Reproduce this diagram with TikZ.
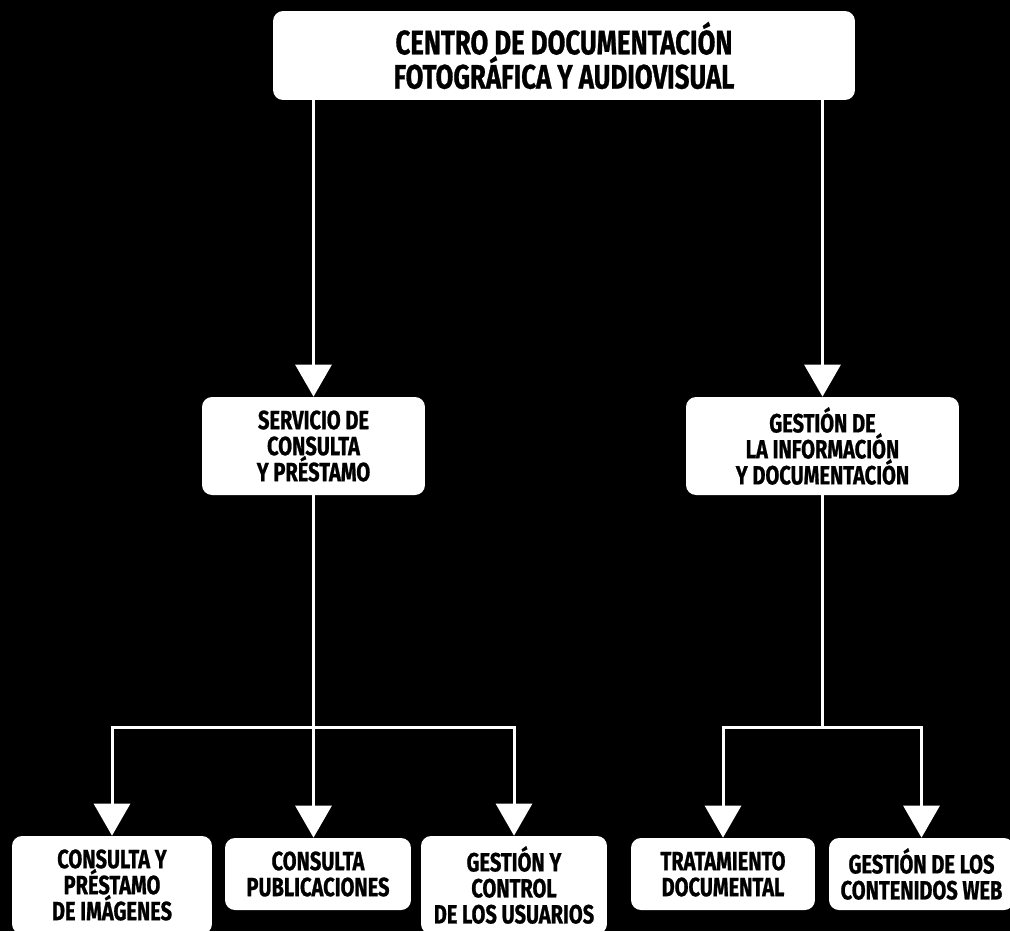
\documentclass[tikz,border=0pt]{standalone}
\usepackage{fontspec}
\setmainfont{Fira Sans}[FakeStretch=0.76,BoldFeatures={FakeBold=0.8}]
\usetikzlibrary{arrows.meta}

\begin{document}
\begin{tikzpicture}[x=0.02cm,y=-0.02cm,
    unit/.style={rounded corners=0.2cm,fill=white,text=black,align=center,inner sep=0pt,
        font=\bfseries\fontsize{15}{14.8}\selectfont},
    link/.style={draw=white,line width=0.06cm,-{Triangle[width=0.72cm,length=0.64cm]}},
    bar/.style={draw=white,line width=0.06cm}]
    \useasboundingbox (0,0) rectangle (1010,931);
    \fill[black] (0,0) rectangle (1010,931);

    % head
    \node[unit,minimum width=11.64cm,minimum height=1.78cm,font=\bfseries\fontsize{19.3}{19.5}\selectfont] (top) at (564,55.5) {CENTRO DE DOCUMENTACIÓN\\FOTOGRÁFICA Y AUDIOVISUAL};

    % areas
    \node[unit,minimum width=4.46cm,minimum height=1.96cm] (serv) at (313.5,446) {SERVICIO DE\\CONSULTA\\Y PRÉSTAMO};
    \node[unit,minimum width=5.46cm,minimum height=1.96cm] (gest) at (822.5,446) {GESTIÓN DE\\LA INFORMACIÓN\\Y DOCUMENTACIÓN};

    % units
    \node[unit,minimum width=4.0cm,minimum height=1.96cm] (img) at (112,885) {CONSULTA Y\\PRÉSTAMO\\DE IMÁGENES};
    \node[unit,minimum width=3.72cm,minimum height=1.44cm] (pub) at (318,874) {CONSULTA\\PUBLICACIONES};
    \node[unit,minimum width=3.72cm,minimum height=1.96cm] (usr) at (514,885) {GESTIÓN Y\\CONTROL\\DE LOS USUARIOS};
    \node[unit,minimum width=3.68cm,minimum height=1.44cm] (doc) at (723,874) {TRATAMIENTO\\DOCUMENTAL};
    \node[unit,minimum width=3.7cm,minimum height=1.44cm] (web) at (921.5,874) {GESTIÓN DE LOS\\CONTENIDOS WEB};

    \coordinate (lbar) at (313.5,727);
    \coordinate (rbar) at (822.5,727);

    \draw[link] (top.south -| serv) -- (serv.north);
    \draw[link] (top.south -| gest) -- (gest.north);

    \draw[link] (serv.south) -- (serv.south |- pub.north);
    \draw[link] (lbar) -| (img.north);
    \draw[link] (lbar) -| (usr.north);

    \draw[bar] (gest.south) -- (rbar);
    \draw[link] (rbar) -| (doc.north);
    \draw[link] (rbar) -| (web.north);
\end{tikzpicture}
\end{document}
